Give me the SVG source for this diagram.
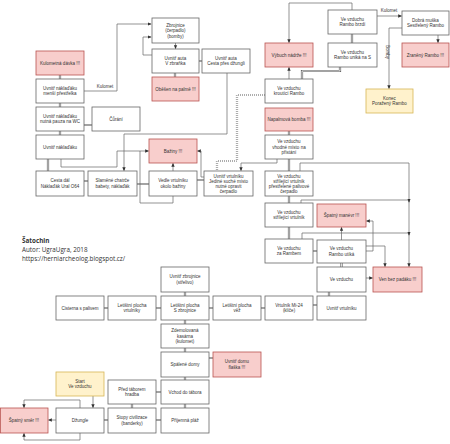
<svg xmlns="http://www.w3.org/2000/svg" xmlns:xlink="http://www.w3.org/1999/xlink" width="450" height="444" viewBox="0 0 450 444">
<style>
.n{fill:#fff;stroke:#666;stroke-width:0.8}
.p{fill:#f8cecc;stroke:#b85450;stroke-width:0.8}
.y{fill:#fff2cc;stroke:#d6b656;stroke-width:0.8}
.t{font-family:"Liberation Sans",Arial,sans-serif;font-size:4.5px;fill:#333;text-anchor:middle}
.c{fill:none;stroke:#666;stroke-width:0.7}
.lbl{font-family:"Liberation Sans",Arial,sans-serif;font-size:4.5px;fill:#333;text-anchor:middle}
.info{font-family:"Open Sans","Liberation Sans",sans-serif;font-size:6.3px;fill:#333}
</style>
<defs>
<marker id="ar" viewBox="0 0 6 6" refX="5" refY="3" markerWidth="4" markerHeight="4" orient="auto" markerUnits="userSpaceOnUse"><path d="M0,0.5 L6,3 L0,5.5 Z" fill="#333"/></marker>
<g id="links">
<path d="M60,75V79M60,103V107M60,131V135M84,125H92M48,159V171M84,181H88M137,184H149M197,180H204M199,61H202M175,73V77M352,34V43M340,67V71H302V79M289,131V135M289,159V171M289,196V203M289,227V239M313,251H317M341.5,263V267M329,292V296M104,308H108M156,308H161M209,308H213M261,308H265M313,305H317M185,292V296M185,320V324M185,348V352M185,377V380M185,404V408M209,358H213M156,392H161M156,420H161M132,404V408M104,420H108"/>
</g>
<path id="dot" d="M265,95H237V161H217V171"/>
</defs>
<g id="connectors">
<use xlink:href="#links" href="#links" fill="none" stroke="#666" stroke-width="2.2"/>
<use xlink:href="#links" href="#links" fill="none" stroke="#fff" stroke-width="0.8"/>
<use xlink:href="#dot" href="#dot" fill="none" stroke="#777" stroke-width="2.2" stroke-dasharray="1,1"/>
<use xlink:href="#dot" href="#dot" fill="none" stroke="#fff" stroke-width="0.8"/>
<path class="c" d="M84,91H117V24H151" marker-end="url(#ar)"/>
<text class="lbl" x="105" y="87.5">Kulomet</text>
<path class="c" d="M152,55H143V37H151" marker-end="url(#ar)"/>
<path class="c" d="M175.5,43V48.5" marker-end="url(#ar)"/>
<path class="c" d="M227,73V134H124V170.5" marker-end="url(#ar)"/>
<path class="c" d="M61,159V167H117V151H148.5" marker-end="url(#ar)"/>
<path class="c" d="M173,196V203H140V151"/>
<path class="c" d="M173,171V163.5" marker-end="url(#ar)"/>
<path class="c" d="M204,177H201V151H197.5" marker-end="url(#ar)"/>
<path class="c" d="M277,159V163H241V170.5" marker-end="url(#ar)"/>
<path class="c" d="M352,10V3H289V42.5" marker-end="url(#ar)"/>
<path class="c" d="M289,79V67.5" marker-end="url(#ar)"/>
<path class="c" d="M377,16H401.5" marker-end="url(#ar)"/>
<text class="lbl" x="389" y="12">Kulomet</text>
<path class="c" d="M402,28H389V88.5" marker-end="url(#ar)"/>
<text class="lbl" transform="translate(385.5,52) rotate(90)">Bomby</text>
<path class="c" d="M438,35V42.5" marker-end="url(#ar)"/>
<path class="c" d="M300,171V163H409V266.5" marker-end="url(#ar)"/>
<path class="c" d="M301,203V200H409V202" marker-end="url(#ar)"/>
<path class="c" d="M302,239V233H409V235" marker-end="url(#ar)"/>
<path class="c" d="M341.5,240V227.5" marker-end="url(#ar)"/>
<path class="c" d="M366,251H373V221H366.5" marker-end="url(#ar)"/>
<path class="c" d="M366,246H385V266.5" marker-end="url(#ar)"/>
<path class="c" d="M366,278H372.5" marker-end="url(#ar)"/>
<path class="c" d="M93,396V407.5" marker-end="url(#ar)"/>
<path class="c" d="M56,420H48.5" marker-end="url(#ar)"/>
<path class="c" d="M80,408V400H24V407.5" marker-end="url(#ar)"/>
<path class="c" d="M80,433V440H24V433.5" marker-end="url(#ar)"/>
</g>
<g id="n_kulometna"><rect class="p" x="36" y="51" width="48" height="24"/><text class="t" x="60" y="64.6">Kulometná dávka !!!</text></g>
<g id="n_nakl1"><rect class="n" x="36" y="79" width="48" height="24"/><text class="t" x="60" y="89.9">Uvnitř náklaďáku<tspan x="60" dy="5.4">menší přestřelka</tspan></text></g>
<g id="n_nakl2"><rect class="n" x="36" y="107" width="48" height="24"/><text class="t" x="60" y="117.9">Uvnitř náklaďáku<tspan x="60" dy="5.4">nutná pauza na WC</tspan></text></g>
<g id="n_curani"><rect class="n" x="92" y="107" width="48" height="24"/><text class="t" x="116" y="120.6">Čůrání</text></g>
<g id="n_nakl3"><rect class="n" x="36" y="135" width="48" height="24"/><text class="t" x="60" y="148.6">Uvnitř náklaďáku</text></g>
<g id="n_cesta"><rect class="n" x="36" y="171" width="48" height="25"/><text class="t" x="60" y="182.4">Cesta dál<tspan x="60" dy="5.4">Náklaďák Ural O64</tspan></text></g>
<g id="n_chatrce"><rect class="n" x="88" y="171" width="49" height="25"/><text class="t" x="112.5" y="182.4">Slaměné chatrče<tspan x="112.5" dy="5.4">babety, náklaďák</tspan></text></g>
<g id="n_baziny"><rect class="p" x="149" y="139" width="48" height="24"/><text class="t" x="173" y="152.6">Bažiny !!!</text></g>
<g id="n_vedle"><rect class="n" x="149" y="171" width="48" height="25"/><text class="t" x="173" y="182.4">Vedle vrtulníku<tspan x="173" dy="5.4">okolo bažiny</tspan></text></g>
<g id="n_uvvrt1"><rect class="n" x="204" y="171" width="49" height="25"/><text class="t" x="228.5" y="177.6">Uvnitř vrtulníku<tspan x="228.5" dy="5">Jediné suché místo</tspan><tspan x="228.5" dy="5">nutné opravit</tspan><tspan x="228.5" dy="5">čerpadlo</tspan></text></g>
<g id="n_zbrojnice"><rect class="n" x="152" y="18" width="47" height="25"/><text class="t" x="175.5" y="26.7">Zbrojnice<tspan x="175.5" dy="5.4">(čerpadlo)</tspan><tspan x="175.5" dy="5.4">(bomby)</tspan></text></g>
<g id="n_auto1"><rect class="n" x="152" y="49" width="47" height="24"/><text class="t" x="175.5" y="59.9">Uvnitř auta<tspan x="175.5" dy="5.4">V zbraňka</tspan></text></g>
<g id="n_auto2"><rect class="n" x="202" y="49" width="48" height="24"/><text class="t" x="226" y="59.9">Uvnitř auta<tspan x="226" dy="5.4">Cesta přes džungli</tspan></text></g>
<g id="n_obesen"><rect class="p" x="152" y="77" width="47" height="24"/><text class="t" x="175.5" y="90.6">Oběšen na palmě !!!</text></g>
<g id="n_vybuch"><rect class="p" x="265" y="43" width="48" height="24"/><text class="t" x="289" y="56.6">Výbuch nádrže !!!</text></g>
<g id="n_brzdi"><rect class="n" x="328" y="10" width="49" height="24"/><text class="t" x="352.5" y="20.9">Ve vzduchu<tspan x="352.5" dy="5.4">Rambo brzdí</tspan></text></g>
<g id="n_unika"><rect class="n" x="328" y="43" width="49" height="24"/><text class="t" x="352.5" y="53.9">Ve vzduchu<tspan x="352.5" dy="5.4">Rambo uniká na S</tspan></text></g>
<g id="n_dobra"><rect class="n" x="402" y="11" width="47" height="24"/><text class="t" x="425.5" y="21.9">Dobrá muška<tspan x="425.5" dy="5.4">Sestřelený Rambo</tspan></text></g>
<g id="n_zraneny"><rect class="p" x="402" y="43" width="47" height="24"/><text class="t" x="425.5" y="56.6">Zraněný Rambo !!!</text></g>
<g id="n_konec"><rect class="y" x="366" y="89" width="47" height="24"/><text class="t" x="389.5" y="99.9">Konec<tspan x="389.5" dy="5.4">Poražený Rambo</tspan></text></g>
<g id="n_kroutici"><rect class="n" x="265" y="79" width="48" height="24"/><text class="t" x="289" y="89.9">Ve vzduchu<tspan x="289" dy="5.4">kroutící Rambo</tspan></text></g>
<g id="n_napalm"><rect class="p" x="265" y="108" width="48" height="23"/><text class="t" x="289" y="121.1">Napalmová bomba !!!</text></g>
<g id="n_vhodne"><rect class="n" x="265" y="135" width="48" height="24"/><text class="t" x="289" y="143.2">Ve vzduchu<tspan x="289" dy="5.4">vhodné místo na</tspan><tspan x="289" dy="5.4">přistání</tspan></text></g>
<g id="n_strilejici1"><rect class="n" x="265" y="171" width="48" height="25"/><text class="t" x="289" y="177.6">Ve vzduchu<tspan x="289" dy="5">střílející vrtulník</tspan><tspan x="289" dy="5">přestřelené palivové</tspan><tspan x="289" dy="5">čerpadlo</tspan></text></g>
<g id="n_strilejici2"><rect class="n" x="265" y="203" width="48" height="24"/><text class="t" x="289" y="213.9">Ve vzduchu<tspan x="289" dy="5.4">střílející vrtulník</tspan></text></g>
<g id="n_manevr"><rect class="p" x="317" y="204" width="49" height="23"/><text class="t" x="341.5" y="217.1">Špatný manévr !!!</text></g>
<g id="n_zarambem"><rect class="n" x="265" y="239" width="48" height="24"/><text class="t" x="289" y="249.9">Ve vzduchu<tspan x="289" dy="5.4">za Rambem</tspan></text></g>
<g id="n_ramboutika"><rect class="n" x="317" y="240" width="49" height="23"/><text class="t" x="341.5" y="250.4">Ve vzduchu<tspan x="341.5" dy="5.4">Rambo utíká</tspan></text></g>
<g id="n_vzduch3"><rect class="n" x="317" y="267" width="49" height="25"/><text class="t" x="341.5" y="281.1">Ve vzduchu</text></g>
<g id="n_ven"><rect class="p" x="373" y="267" width="49" height="25"/><text class="t" x="397.5" y="281.1">Ven bez padáku !!!</text></g>
<g id="n_uvvrt2"><rect class="n" x="317" y="296" width="49" height="24"/><text class="t" x="341.5" y="309.6">Uvnitř vrtulníku</text></g>
<g id="n_mi24"><rect class="n" x="265" y="296" width="48" height="24"/><text class="t" x="289" y="306.9">Vrtulník Mi-24<tspan x="289" dy="5.4">(klíče)</tspan></text></g>
<g id="n_vez"><rect class="n" x="213" y="296" width="48" height="24"/><text class="t" x="237" y="306.9">Letištní plocha<tspan x="237" dy="5.4">věž</tspan></text></g>
<g id="n_szbroj"><rect class="n" x="161" y="296" width="48" height="24"/><text class="t" x="185" y="306.9">Letištní plocha<tspan x="185" dy="5.4">S zbrojnice</tspan></text></g>
<g id="n_vrtulniky"><rect class="n" x="108" y="296" width="48" height="24"/><text class="t" x="132" y="306.9">Letištní plocha<tspan x="132" dy="5.4">vrtulníky</tspan></text></g>
<g id="n_cisterna"><rect class="n" x="56" y="296" width="48" height="24"/><text class="t" x="80" y="309.6">Cisterna s palivem</text></g>
<g id="n_zbrojstrelivo"><rect class="n" x="161" y="267" width="48" height="25"/><text class="t" x="185" y="278.4">Uvnitř zbrojnice<tspan x="185" dy="5.4">(střelivo)</tspan></text></g>
<g id="n_kasarna"><rect class="n" x="161" y="324" width="48" height="24"/><text class="t" x="185" y="332.2">Zdemolovaná<tspan x="185" dy="5.4">kasárna</tspan><tspan x="185" dy="5.4">(kulomet)</tspan></text></g>
<g id="n_domy"><rect class="n" x="161" y="352" width="48" height="25"/><text class="t" x="185" y="366.1">Spálené domy</text></g>
<g id="n_flaska"><rect class="p" x="213" y="352" width="48" height="25"/><text class="t" x="237" y="363.4">Uvnitř domu<tspan x="237" dy="5.4">flaška !!!</tspan></text></g>
<g id="n_vchod"><rect class="n" x="161" y="380" width="48" height="24"/><text class="t" x="185" y="393.6">Vchod do tábora</text></g>
<g id="n_plaz"><rect class="n" x="161" y="408" width="48" height="25"/><text class="t" x="185" y="422.1">Příjemná pláž</text></g>
<g id="n_hradba"><rect class="n" x="108" y="380" width="48" height="24"/><text class="t" x="132" y="390.9">Před táborem<tspan x="132" dy="5.4">hradba</tspan></text></g>
<g id="n_stopy"><rect class="n" x="108" y="408" width="48" height="25"/><text class="t" x="132" y="419.4">Stopy civilizace<tspan x="132" dy="5.4">(banderky)</tspan></text></g>
<g id="n_dzungle"><rect class="n" x="56" y="408" width="48" height="25"/><text class="t" x="80" y="422.1">Džungle</text></g>
<g id="n_start"><rect class="y" x="56" y="372" width="48" height="24"/><text class="t" x="80" y="382.9">Start<tspan x="80" dy="5.4">Ve vzduchu</tspan></text></g>
<g id="n_smer"><rect class="p" x="0.5" y="408" width="47.5" height="25"/><text class="t" x="24" y="422.1">Špatný směr !!!</text></g>
<g id="info">
<text class="info" x="22" y="243" font-weight="bold">Šatochin</text>
<text class="info" x="22" y="252">Autor: UgraUgra, 2018</text>
<text class="info" x="22" y="261">https://herniarcheolog.blogspot.cz/</text>
</g>
</svg>
